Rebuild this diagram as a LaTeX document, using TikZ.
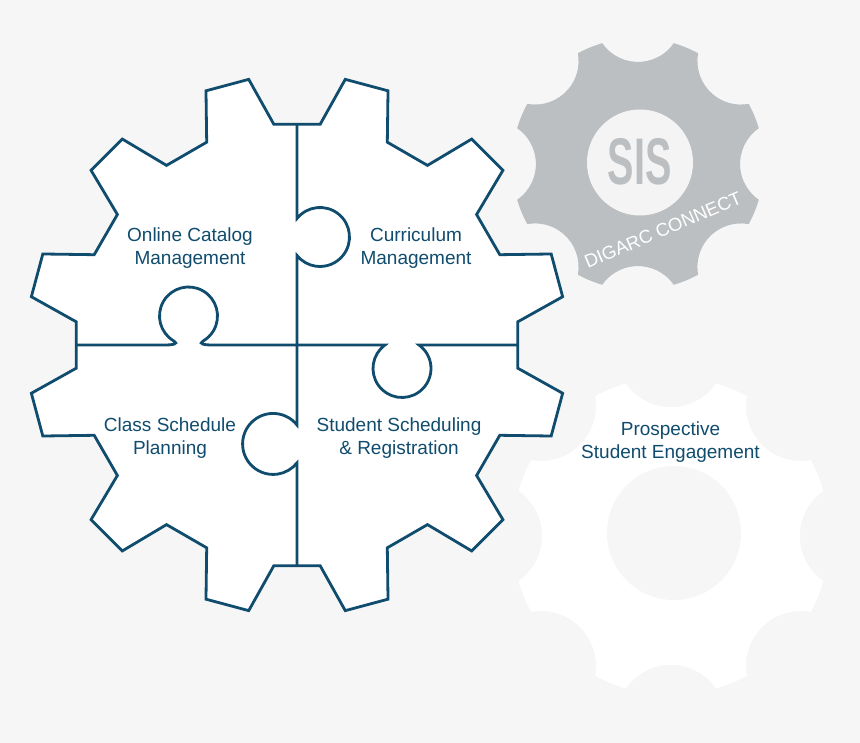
\documentclass[tikz,border=0pt]{standalone}
\usepackage{fontspec}
\setmainfont{Liberation Sans}
\newfontfamily\sisfont{Liberation Sans}[FakeStretch=0.6]
\usetikzlibrary{positioning}
\definecolor{cogblue}{RGB}{16,76,110}
\definecolor{backdrop}{RGB}{246,246,246}
\definecolor{sisgrey}{RGB}{188,191,193}
\definecolor{sisdisc}{RGB}{244,244,244}
\tikzset{
cog/.style = {draw=cogblue, line width=2.8pt, fill=white, line join=miter},
cut/.style = {draw=cogblue, line width=2.8pt},
piece/.style = {text=cogblue, align=center, inner sep=0pt, font=\fontsize{19}{22.5}\selectfont},
sislogo/.style = {text=sisgrey, inner sep=0pt, font=\sisfont\bfseries\fontsize{66}{66}\selectfont},
brand/.style = {text=white, inner sep=0pt, font=\fontsize{18.5}{20}\selectfont},
hole/.style = {fill=backdrop}
}

\begin{document}
\begin{tikzpicture}[x=1pt, y=-1pt]
    \useasboundingbox (0,0) rectangle (860,743);
    \fill[backdrop] (0,0) rectangle (860,743);

    % We start with the two small gears (8 teeth, round notches)
    \fill[sisgrey, shift={(638,164)}, scale=126] (16.5:1)
      \foreach \k in {0,...,7} {
        arc[start angle={16.5+45*\k}, end angle={28.5+45*\k}, radius=1]
        arc[start angle={45+45*\k-124.72}, end angle={45+45*\k-235.28}, radius=0.3456]
      } -- cycle;
    \fill[sisdisc] (640,162.5) circle[radius=53];
    \node[sislogo] (sis) at (639.5,162) {SIS};
    \node[brand, rotate=23] (digarc) at (663,230) {DIGARC CONNECT};

    \fill[white, shift={(671,536)}, scale=159] (16.5:1)
      \foreach \k in {0,...,7} {
        arc[start angle={16.5+45*\k}, end angle={28.5+45*\k}, radius=1]
        arc[start angle={45+45*\k-124.72}, end angle={45+45*\k-235.28}, radius=0.3456]
      } -- cycle;
    \fill[hole] (674,533) circle[radius=67];
    \node[piece] (prospect) at (670.5,442) {Prospective\\Student Engagement};

    % The big gear, cut in four pieces
    \draw[cog, shift={(297,345)}] (0:220.8)
      \foreach \k in {0,...,11} {
        -- ({30*\k+6}:222) -- ({30*\k+10.3}:270) -- ({30*\k+19.7}:270) -- ({30*\k+24}:222)
      } -- cycle;
    \coordinate (cuttop) at (297,124.2);
    \coordinate (cutbottom) at (297,565.8);
    \coordinate (cutleft) at (76.2,345);
    \coordinate (cutright) at (517.8,345);

    \draw[cut] (cuttop) -- (297,218.5) arc[start angle=-141.2, end angle=141.2, radius=29.5]
      -- (297,425) arc[start angle=-38.4, end angle=-321.6, radius=30.5] -- (cutbottom);
    \draw[cut] (cutleft) -- (166,345) .. controls (172,345) and (179,344) .. (174,341.1)
      arc[start angle=120, end angle=420, radius=29]
      .. controls (198,344) and (205,345) .. (211,345)
      -- (385,345) arc[start angle=234.1, end angle=-54.1, radius=29] -- (cutright);

    % Once the pieces are cut, the labels go in
    \node[piece] (catalog) at (190,248) {Online Catalog\\Management};
    \node[piece] (curric) at (416,248) {Curriculum\\Management};
    \node[piece] (classes) at (170,438) {Class Schedule\\Planning};
    \node[piece] (register) at (399,438) {Student Scheduling\\\& Registration};
\end{tikzpicture}
\end{document}
